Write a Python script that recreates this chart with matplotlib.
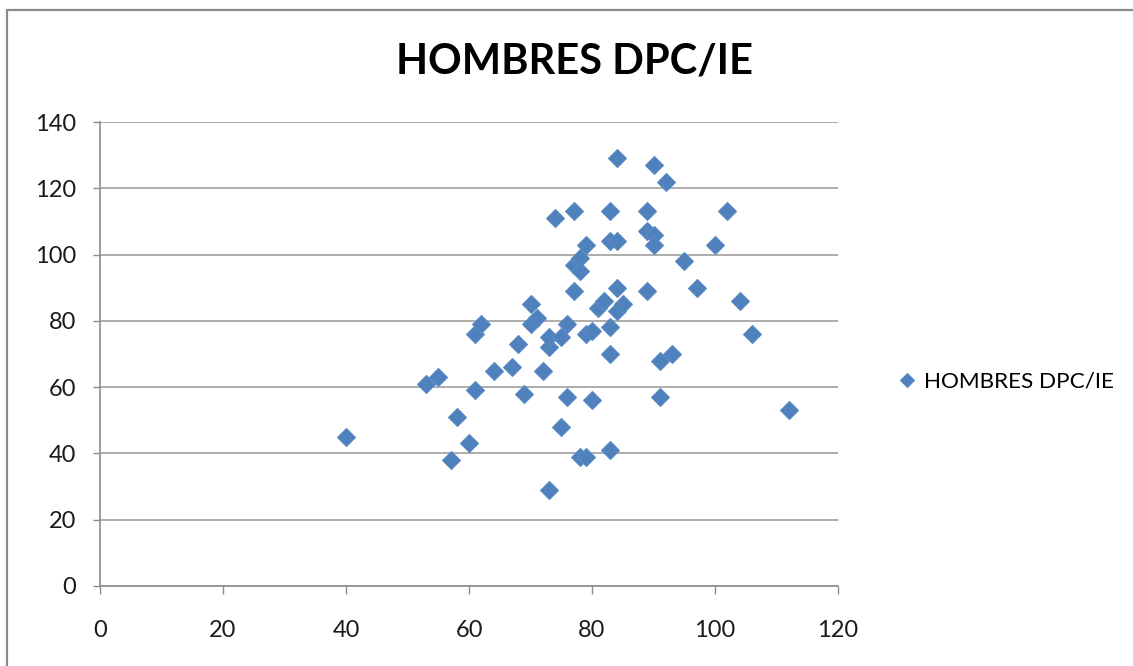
import matplotlib
matplotlib.use("Agg")
import matplotlib.pyplot as plt
from matplotlib.patches import Rectangle

# Data
x_vals = [40, 53, 55, 57, 58, 60, 61, 61, 62, 64, 67, 68, 69, 70, 70, 71, 72, 73, 73, 73,
          74, 75, 75, 76, 76, 77, 77, 77, 78, 78, 78, 79, 79, 79, 80, 80, 81, 82, 83, 83,
          83, 83, 83, 84, 84, 84, 84, 85, 89, 89, 89, 90, 90, 90, 91, 91, 92, 93, 95, 97,
          100, 102, 104, 106, 112]
y_vals = [45, 61, 63, 38, 51, 43, 59, 76, 79, 65, 66, 73, 58, 79, 85, 81, 65, 72, 75, 29,
          111, 75, 48, 79, 57, 113, 97, 89, 99, 95, 39, 103, 76, 39, 77, 56, 84, 86, 113, 104,
          78, 70, 41, 129, 104, 90, 83, 85, 113, 107, 89, 127, 106, 103, 68, 57, 122, 70, 98, 90,
          103, 113, 86, 76, 53]
series_name = "HOMBRES DPC/IE"
title_text = "HOMBRES DPC/IE"
x_ticks = [0, 20, 40, 60, 80, 100, 120]
y_ticks = [0, 20, 40, 60, 80, 100, 120, 140]

W, H = 1133, 666
fig = plt.figure(figsize=(W / 100, H / 100), dpi=100)
fig.patch.set_facecolor("white")

# outer chart border
fig.patches.append(Rectangle((6.5 / W, -0.1), 1.2, (1 - 10 / H) + 0.1,
                             transform=fig.transFigure, fill=False,
                             edgecolor="#8a8a8a", linewidth=1.6))

ax = fig.add_axes([100 / W, 1 - 586 / H, (838 - 100) / W, (586 - 122) / H])
ax.set_xlim(0, 120)
ax.set_ylim(0, 140)
ax.set_xticks(x_ticks)
ax.set_yticks(y_ticks)

ax.grid(axis="y", color="#a6a6a6", linewidth=1.3)
ax.set_axisbelow(True)
for s in ["top", "right"]:
    ax.spines[s].set_visible(False)
for s in ["left", "bottom"]:
    ax.spines[s].set_color("#8c8c8c")
    ax.spines[s].set_linewidth(1.2)

ax.tick_params(axis="y", direction="out", length=5, width=1, color="#8c8c8c",
               pad=12, labelsize=17, labelcolor="#1a1a1a")
ax.tick_params(axis="x", direction="out", length=5.5, width=1, color="#8c8c8c",
               pad=19, labelsize=17, labelcolor="#1a1a1a")
for lab in ax.get_xticklabels() + ax.get_yticklabels():
    lab.set_fontfamily("Lato")

sc = ax.plot(x_vals, y_vals, linestyle="none", marker="D", markersize=9.2,
             markerfacecolor="#4f81bd", markeredgecolor="#5b8ac4",
             markeredgewidth=0.8, label=series_name, clip_on=False)

fig.text(574 / W, 1 - 62 / H, title_text, ha="center", va="center",
         fontsize=30, fontweight="bold", family="Lato", color="black")

leg = fig.legend(handles=sc, loc="center left",
                 bbox_to_anchor=(898 / W, 1 - 382 / H), frameon=False,
                 handlelength=0.8, handletextpad=0.35, borderpad=0, borderaxespad=0,
                 prop={"family": "Lato", "size": 16.2}, markerscale=0.78)

fig.savefig("out.png", dpi=100)
